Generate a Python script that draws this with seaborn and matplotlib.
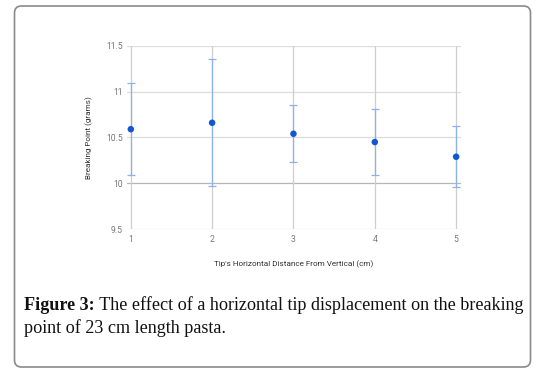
import numpy as np
import pandas as pd
import seaborn as sns
import matplotlib.pyplot as plt
from matplotlib.patches import FancyBboxPatch

# tip distance from vertical (cm) vs breaking point (grams)
distance = [1, 2, 3, 4, 5]
breaking_point = [10.59, 10.66, 10.54, 10.45, 10.29]
error_half = [0.50, 0.69, 0.31, 0.36, 0.33]
y_ticks = [9.5, 10, 10.5, 11, 11.5]
y_tick_labels = ['9.5', '10', '10.5', '11', '11.5']

caption_bold = 'Figure 3:'
caption_rest = ' The effect of a horizontal tip displacement on the breaking'
caption_line2 = 'point of 23 cm length pasta.'

df = pd.DataFrame({'distance': distance, 'grams': breaking_point, 'err': error_half})

sns.set_style('white')
plt.rcParams['font.family'] = ['Roboto', 'DejaVu Sans']

fig = plt.figure(figsize=(5.37, 3.71), dpi=100)
ax = fig.add_axes([0.236, 0.382, 0.6225, 0.495])

# gridlines
for yv in y_ticks:
    ax.axhline(yv, color='#b5b5b5' if yv == 10 else '#dcdcdc', lw=0.9, zorder=0)
for xv in distance:
    ax.axvline(xv, color='#cfcfcf', lw=0.9, zorder=0)

ax.errorbar(df['distance'], df['grams'], yerr=df['err'], fmt='none',
            ecolor='#8fb0ee', elinewidth=0.9, capsize=2.9, capthick=0.9, zorder=2)
sns.scatterplot(data=df, x='distance', y='grams', ax=ax, color='#1257d1',
                s=22, edgecolor='none', zorder=3)

ax.set_xlim(0.95, 5.06)
ax.set_ylim(9.5, 11.5)
ax.set_xticks(distance)
ax.set_xticklabels([str(d) for d in distance])
ax.set_yticks(y_ticks)
ax.set_yticklabels(y_tick_labels)
ax.tick_params(axis='both', length=0, labelsize=6.2, colors='#777777')
ax.tick_params(axis='x', pad=4)
ax.tick_params(axis='y', pad=3)
for s in ax.spines.values():
    s.set_visible(False)

ax.set_xlabel("Tip's Horizontal Distance From Vertical (cm)", fontsize=5.9,
              color='#333333', labelpad=12)
ax.set_ylabel('Breaking Point (grams)', fontsize=5.9, color='#333333', labelpad=9)

# caption
cap_size = 13.1
t1 = fig.text(24 / 537, 1 - 305 / 371, caption_bold, fontsize=cap_size,
              family='Liberation Serif', weight='bold', va='center', color='#111111')
fig.canvas.draw()
bb = t1.get_window_extent()
fig.text(bb.x1 / (537), 1 - 305 / 371, caption_rest, fontsize=cap_size,
         family='Liberation Serif', va='center', color='#111111')
fig.text(24 / 537, 1 - 328 / 371, caption_line2, fontsize=cap_size,
         family='Liberation Serif', va='center', color='#111111')

# outer frame
frame = FancyBboxPatch((0.145, 0.04), 5.16, 3.61,
                       boxstyle='round,pad=0,rounding_size=0.07',
                       transform=fig.dpi_scale_trans, facecolor='none',
                       edgecolor='#8a8a8a', lw=1.2)
fig.patches.append(frame)

fig.savefig('out.png', dpi=100)
